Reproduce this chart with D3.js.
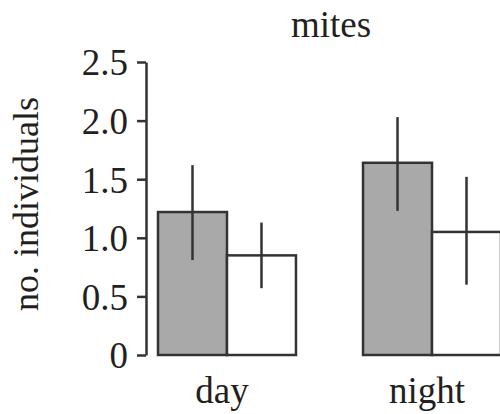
<!DOCTYPE html>
<html>
<head>
<meta charset="utf-8">
<style>
    body { margin: 0; background: #fff; }
    svg { display: block; font-family: "Liberation Serif", "Times New Roman", serif; }
    .y .domain { stroke: #333; stroke-width: 2.5px; }
    .y .tick line { stroke: #333; stroke-width: 2.5px; }
    .y .tick text { font-size: 37px; fill: #231f20; font-family: "Liberation Serif", "Times New Roman", serif; }
</style>
</head>
<body>
<svg width="500" height="414"></svg>

<script src="https://d3js.org/d3.v7.min.js"></script>
<script>
    // periods on the x axis
    const periods = ["day", "night"]
    // two treatments per period (grey / white bars)
    const treatments = ["a", "b"]
    // mean number of mites
    const means = [[1.22, 0.85], [1.64, 1.05]]
    // error bar ends
    const lows = [[0.81, 0.57], [1.23, 0.60]]
    const highs = [[1.62, 1.13], [2.03, 1.52]]
    const yTicks = [0, 0.5, 1.0, 1.5, 2.0, 2.5]
    const fills = ["#a9a9a9", "#ffffff"]

    let svg = d3.select("svg")

    let y = d3.scaleLinear()
        .domain([0, 2.5])
        .range([355, 62])

    // the night group runs off the right edge, as in the original figure
    let x = d3.scaleBand()
        .domain(periods)
        .range([158, 501])
        .paddingInner(0.327)

    let xSub = d3.scaleBand()
        .domain(treatments)
        .range([0, x.bandwidth()])

    let yAxis = d3.axisLeft(y)
        .tickValues(yTicks)
        .tickSize(9)
        .tickPadding(9)
        .tickFormat(d => d === 0 ? "0" : d3.format(".1f")(d))
        .tickSizeOuter(0)

    svg.append("g")
        .attr("class", "y axis")
        .attr("transform", "translate(146,0)")
        .call(yAxis)
        .attr("font-family", null)
        .attr("font-size", null)
        .call(g => g.selectAll(".tick text").attr("dy", "0.35em"))

    let rows = []
    periods.forEach((p, i) => {
        treatments.forEach((t, j) => {
            rows.push({ period: p, treat: t, j: j, mean: means[i][j], lo: lows[i][j], hi: highs[i][j] })
        })
    })

    let groups = svg.append("g")
        .selectAll(".bar")
        .data(rows)
        .join("g")
        .attr("class", "bar")
        .attr("transform", d => `translate(${x(d.period) + xSub(d.treat)},0)`)

    groups.append("rect")
        .attr("x", 0)
        .attr("y", d => y(d.mean))
        .attr("width", xSub.bandwidth())
        .attr("height", d => y(0) - y(d.mean))
        .style("fill", d => fills[d.j])
        .style("stroke", "#333")
        .style("stroke-width", "2.5px")

    groups.append("line")
        .attr("x1", xSub.bandwidth() / 2)
        .attr("x2", xSub.bandwidth() / 2)
        .attr("y1", d => y(d.lo))
        .attr("y2", d => y(d.hi))
        .style("stroke", "#333")
        .style("stroke-width", "2.5px")

    // category labels under the groups
    svg.append("g")
        .selectAll("text")
        .data(periods)
        .join("text")
        .attr("x", d => x(d) + x.bandwidth() / 2 - 5)
        .attr("y", 403)
        .attr("text-anchor", "middle")
        .style("font-size", "37px")
        .style("fill", "#231f20")
        .text(d => d)

    svg.append("text")
        .attr("x", 331)
        .attr("y", 37)
        .attr("text-anchor", "middle")
        .style("font-size", "37px")
        .style("fill", "#231f20")
        .text("mites")

    svg.append("text")
        .attr("transform", "translate(38,204) rotate(-90)")
        .attr("text-anchor", "middle")
        .style("font-size", "36px")
        .style("fill", "#231f20")
        .text("no. individuals")
</script>
</body>
</html>
